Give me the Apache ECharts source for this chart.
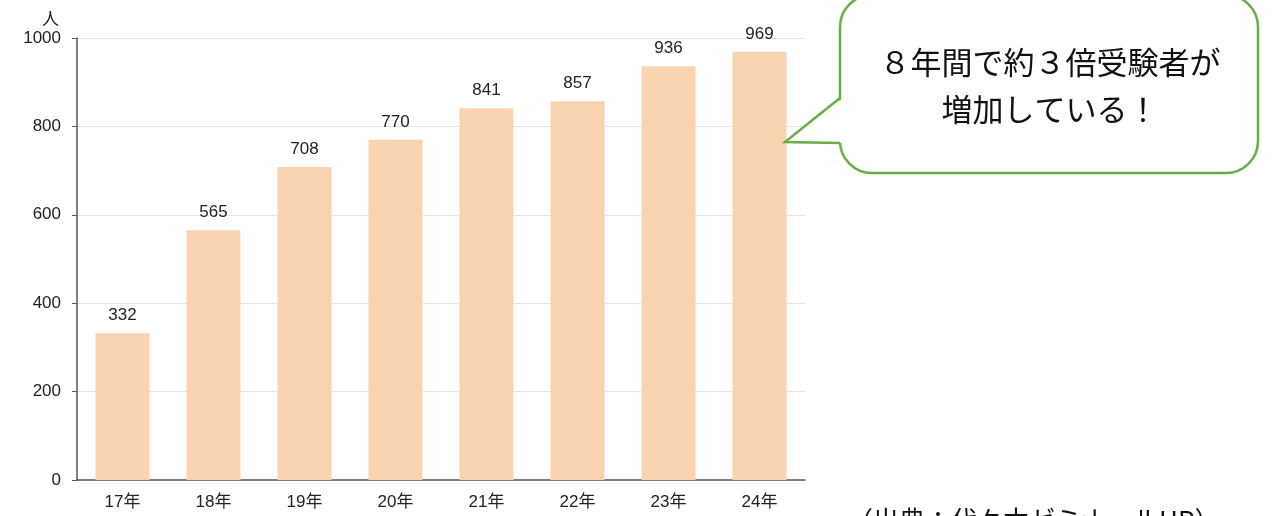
<!DOCTYPE html>
<html>
<head>
<meta charset="utf-8">
<script src="https://cdn.jsdelivr.net/npm/echarts@6/dist/echarts.min.js"></script>
<style>
  html, body { margin: 0; padding: 0; background: #fff; }
  #chart { width: 1277px; height: 516px; }
</style>
</head>
<body>
<div id="chart"></div>
<script>
const years = ["17年", "18年", "19年", "20年", "21年", "22年", "23年", "24年"];
const examinees = [332, 565, 708, 770, 841, 857, 936, 969];
const calloutText = "８年間で約３倍受験者が\n増加している！";
const sourceText = "（出典：代々木ゼミナールHP）";

const font = '"Noto Sans CJK JP", "Noto Sans", sans-serif';
const numFont = '"Liberation Sans", "Noto Sans CJK JP", sans-serif';
const green = "#6aad45";

const chart = echarts.init(document.getElementById("chart"));

chart.setOption({
  animation: false,
  grid: {
    left: 77,
    right: 472,
    top: 38,
    bottom: 36
  },
  xAxis: {
    type: "category",
    data: years,
    axisLine: { lineStyle: { color: "#555", width: 1.5 } },
    axisTick: { show: false },
    axisLabel: { color: "#222", fontSize: 17, fontFamily: numFont, margin: 14 }
  },
  yAxis: {
    type: "value",
    min: 0,
    max: 1000,
    interval: 200,
    name: "人",
    nameLocation: "end",
    nameGap: 11,
    nameTextStyle: { color: "#222", fontSize: 17, fontFamily: font, align: "right", padding: [0, 18, 0, 0] },
    axisLine: { show: true, lineStyle: { color: "#555", width: 1.5 } },
    axisTick: { show: true, length: 5, lineStyle: { color: "#555" } },
    axisLabel: {
      color: "#222",
      fontSize: 17,
      fontFamily: numFont,
      margin: 16,
      formatter: v => String(v)
    },
    splitLine: { lineStyle: { color: "#e4e4e4" } }
  },
  series: [
    {
      type: "bar",
      data: examinees,
      barWidth: 54,
      itemStyle: { color: "#fad4b1" },
      label: {
        show: true,
        position: "top",
        distance: 9,
        color: "#222",
        fontSize: 17,
        fontFamily: numFont
      }
    }
  ],
  graphic: [
    {
      type: "rect",
      shape: { x: 840, y: -5, width: 418, height: 178, r: 32 },
      style: { fill: "#fff", stroke: green, lineWidth: 2.5 },
      z: 10
    },
    {
      // white patch hiding the box edge where the tail joins
      type: "polygon",
      shape: { points: [[843, 98], [785, 142], [843, 143]] },
      style: { fill: "#fff", stroke: null },
      z: 11
    },
    {
      type: "polyline",
      shape: { points: [[840, 98], [785, 142], [840, 143]] },
      style: { fill: null, stroke: green, lineWidth: 2.5 },
      z: 12
    },
    {
      type: "text",
      x: 1050,
      y: 86,
      style: {
        text: calloutText,
        fill: "#111",
        font: "31px " + font,
        lineHeight: 47,
        align: "center",
        verticalAlign: "middle"
      },
      z: 13
    },
    {
      type: "text",
      left: 847,
      top: 507,
      style: {
        text: sourceText,
        fill: "#111",
        font: "26px " + font
      },
      z: 13
    }
  ]
});
</script>
</body>
</html>
